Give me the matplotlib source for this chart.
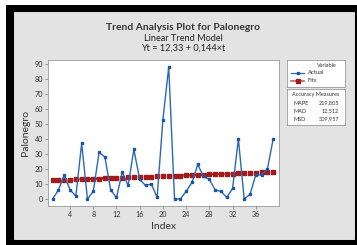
import matplotlib.pyplot as plt
from matplotlib.patches import Rectangle

plt.rcParams['font.family'] = ['Lato', 'DejaVu Sans']

index = list(range(1, 40))
actual = [0, 6, 16, 6, 2, 37, 0, 5, 31, 28, 6, 1, 18, 9, 33, 13, 9, 10, 1, 53,
          88, 0, 0, 5, 11, 23, 15, 13, 6, 5, 1, 7, 40, 0, 3, 16, 16, 20, 40]
# trend values (Yt = 12,33 + 0,144*t)
fits = [12.47, 12.62, 12.76, 12.91, 13.05, 13.19, 13.34, 13.48, 13.63, 13.77,
        13.91, 14.06, 14.20, 14.35, 14.49, 14.63, 14.78, 14.92, 15.07, 15.21,
        15.35, 15.50, 15.64, 15.79, 15.93, 16.07, 16.22, 16.36, 16.51, 16.65,
        16.79, 16.94, 17.08, 17.23, 17.37, 17.51, 17.66, 17.80, 17.95]
xticks = [4, 8, 12, 16, 20, 24, 28, 32, 36]
yticks = [0, 10, 20, 30, 40, 50, 60, 70, 80, 90]
measures = [('MAPE', '219,805'), ('MAD', '12,512'), ('MSD', '309,957')]

W, H = 357, 245
fig = plt.figure(figsize=(W / 100, H / 100), dpi=100)
fig.patch.set_facecolor('white')

def box(x0, y0, x1, y1):
    # pixel box (top-left origin) -> figure fraction rect
    return [x0 / W, 1 - y1 / H, (x1 - x0) / W, (y1 - y0) / H]

# black frame and gray panel
r = box(6, 5, 357, 245)
fig.patches.append(Rectangle((r[0], r[1]), r[2], r[3], transform=fig.transFigure,
                             facecolor='black', edgecolor='none', zorder=-2))
r = box(14, 12, 354, 239)
fig.patches.append(Rectangle((r[0], r[1]), r[2], r[3], transform=fig.transFigure,
                             facecolor='#e3e3e3', edgecolor='#f0f0f0', lw=0.6, zorder=-1))

ax = fig.add_axes(box(48, 60, 279, 206))
ax.set_facecolor('white')
ax.plot(index, fits, color='#a31a1a', lw=1.7, linestyle=(0, (1.0, 1.6)),
        marker='s', markersize=2.4, zorder=2)
ax.plot(index, actual, color='#2a68b8', lw=1.0, marker='s', markersize=1.8,
        markeredgecolor='#1a55a0', zorder=3)
ax.set_xlim(0.2, 40)
ax.set_ylim(-4.7, 92.7)
ax.set_xticks(xticks)
ax.set_yticks(yticks)
ax.tick_params(labelsize=5.2, length=2, width=0.5, color='#777777',
               labelcolor='#333333', pad=1.5)
for s in ax.spines.values():
    s.set_color('#999999')
    s.set_linewidth(0.6)
ax.set_xlabel('Index', fontsize=7.5, color='#333333', labelpad=3)
ax.set_ylabel('Palonegro', fontsize=7.5, color='#333333', labelpad=3)

fig.text(183 / W, 1 - 28 / H, 'Trend Analysis Plot for Palonegro', ha='center', va='center',
         fontsize=7.4, fontweight='bold', color='#333333')
fig.text(183 / W, 1 - 38.5 / H, 'Linear Trend Model', ha='center', va='center',
         fontsize=6.6, color='#222222')
fig.text(183 / W, 1 - 48 / H, 'Yt = 12,33 + 0,144×t', ha='center', va='center',
         fontsize=6.6, color='#222222')

# legend box: Variable
lax = fig.add_axes(box(287, 60, 345, 87))
lax.set_xlim(0, 58)
lax.set_ylim(27, 0)
lax.set_xticks([])
lax.set_yticks([])
for s in lax.spines.values():
    s.set_color('#999999')
    s.set_linewidth(0.6)
lax.text(40, 5, 'Variable', ha='center', va='center', fontsize=4.0, color='#333333')
lax.plot([4, 17], [13, 13], color='#2a68b8', lw=0.9)
lax.plot([10.5], [13], marker='s', markersize=2, color='#1a55a0')
lax.text(21, 12.5, 'Actual', va='center', fontsize=4.2, color='#333333')
lax.plot([4, 17], [20.5, 20.5], color='#c06060', lw=1.2)
lax.plot([10.5], [20.5], marker='s', markersize=3, color='#a31a1a')
lax.text(21, 20, 'Fits', va='center', fontsize=4.2, color='#333333')

# accuracy measures box
max_ = fig.add_axes(box(287, 89, 345, 125))
max_.set_xlim(0, 58)
max_.set_ylim(36, 0)
max_.set_xticks([])
max_.set_yticks([])
for s in max_.spines.values():
    s.set_color('#999999')
    s.set_linewidth(0.6)
max_.text(29, 5.5, 'Accuracy Measures', ha='center', va='center', fontsize=4.0, color='#333333')
for i, (name, val) in enumerate(measures):
    y = 14 + i * 8
    max_.text(7, y, name, va='center', fontsize=4.0, color='#333333')
    max_.text(52, y, val, va='center', ha='right', fontsize=4.0, color='#333333')

fig.savefig('out.png', dpi=100)
